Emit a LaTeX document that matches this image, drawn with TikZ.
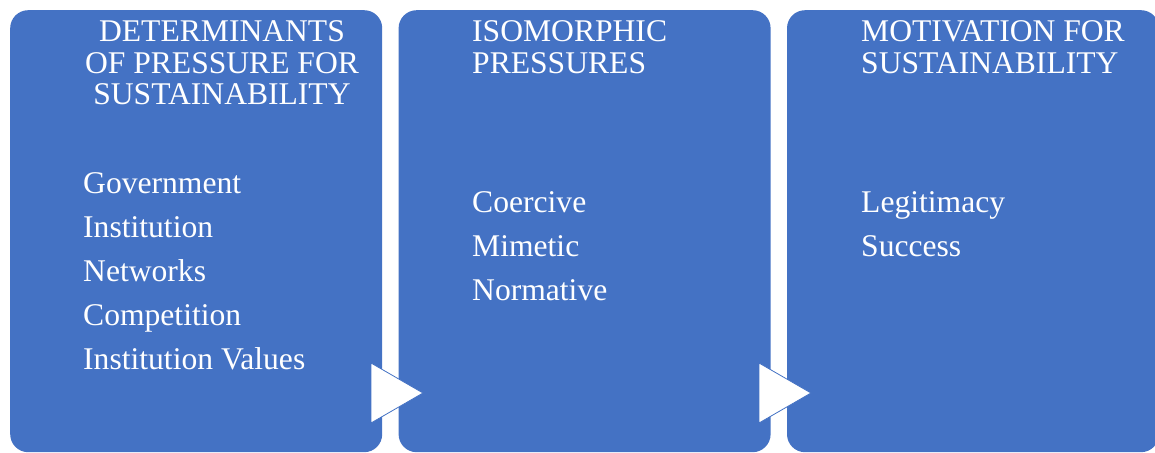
\documentclass[tikz,border=0pt]{standalone}
\usepackage{fontspec}
\setmainfont{Liberation Serif}
\usetikzlibrary{positioning}
\definecolor{PanelBlue}{HTML}{4472C4}

\begin{document}
\begin{tikzpicture}[
  x=1pt,y=1pt,
  node distance=16pt,
  every node/.style={text=white,inner sep=0pt},
  panel/.style={fill=PanelBlue,rounded corners=18pt,minimum width=372pt,
                minimum height=442pt},
  head/.style={font=\fontsize{31.6}{31.5}\selectfont,anchor=base west,align=left},
  items/.style={font=\fontsize{31.6}{44}\selectfont,anchor=base west,align=left},
  pointer/.style={fill=white,draw=PanelBlue,line width=0.8pt}
]
  \useasboundingbox (0,0) rectangle (1155,-452);

  % the three panels
  \node[panel,anchor=north west] (drivers) at (10,-10) {};
  \node[panel,right=of drivers] (pressures) {};
  \node[panel,right=of pressures] (motives) {};

  % headings (anchored at the baseline of their last line)
  \node[head,anchor=base,align=center] (driversHead) at (222,-104.7)
    {DETERMINANTS\\OF PRESSURE FOR\\SUSTAINABILITY};
  \node[head] (pressuresHead) at (472,-73.2) {ISOMORPHIC\\PRESSURES};
  \node[head] (motivesHead) at (861,-73.2) {MOTIVATION FOR\\SUSTAINABILITY};

  % lists
  \node[items] (driversList) at (83,-369)
    {Government\\Institution\\Networks\\Competition\\Institution Values};
  \node[items] (pressuresList) at (472,-300.3) {Coercive\\Mimetic\\Normative};
  \node[items] (motivesList) at (861,-256) {Legitimacy\\Success};

  % arrow heads between panels
  \draw[pointer] (371,-363) -- (423,-393) -- (371,-423) -- cycle;
  \draw[pointer] (759,-363) -- (811,-393) -- (759,-423) -- cycle;
\end{tikzpicture}
\end{document}
